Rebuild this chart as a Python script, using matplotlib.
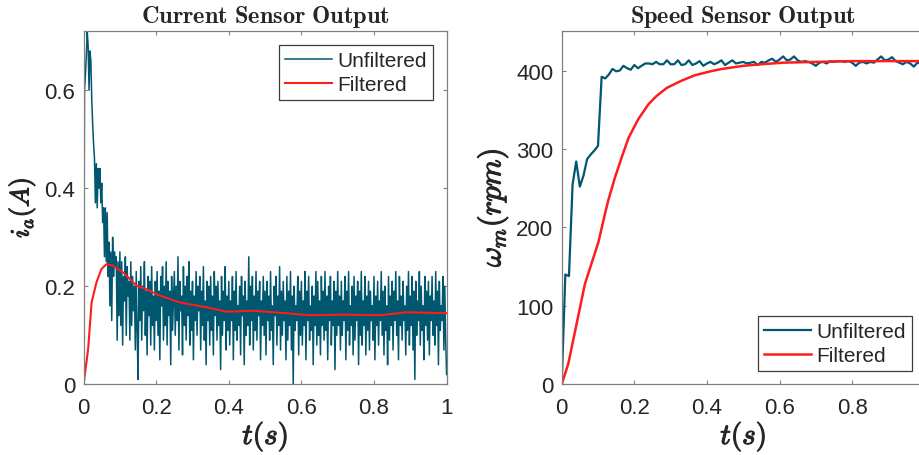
import numpy as np
import matplotlib
matplotlib.use('Agg')
import matplotlib.pyplot as plt
import matplotlib.patheffects as pe

plt.rcParams['font.family'] = ['Liberation Sans', 'DejaVu Sans']
plt.rcParams['mathtext.fontset'] = 'cm'

# current sensor, raw samples every 2.5 ms (A)
current_raw = [
    0.00, 0.60, 0.63, 0.67, 0.72, 0.69, 0.60, 0.68, 0.66, 0.58, 0.53, 0.49, 0.46, 0.37, 0.45, 0.36, 0.44, 0.40, 0.44, 0.37,
    0.41, 0.33, 0.36, 0.26, 0.36, 0.25, 0.35, 0.22, 0.29, 0.16, 0.27, 0.13, 0.30, 0.22, 0.27, 0.24, 0.26, 0.09, 0.25, 0.14,
    0.27, 0.12, 0.25, 0.08, 0.22, 0.17, 0.26, 0.10, 0.24, 0.18, 0.21, 0.09, 0.25, 0.12, 0.22, 0.15, 0.20, 0.07, 0.23, 0.11,
    0.01, 0.21, 0.13, 0.24, 0.09, 0.20, 0.15, 0.25, 0.10, 0.19, 0.06, 0.22, 0.14, 0.21, 0.08, 0.24, 0.12, 0.18, 0.07, 0.21,
    0.13, 0.23, 0.10, 0.19, 0.05, 0.22, 0.16, 0.24, 0.09, 0.20, 0.12, 0.25, 0.08, 0.21, 0.14, 0.19, 0.04, 0.22, 0.11, 0.17,
    0.23, 0.10, 0.20, 0.13, 0.26, 0.07, 0.21, 0.15, 0.18, 0.06, 0.24, 0.12, 0.20, 0.09, 0.22, 0.14, 0.25, 0.08, 0.19, 0.11,
    0.21, 0.05, 0.18, 0.13, 0.23, 0.10, 0.20, 0.15, 0.22, 0.07, 0.19, 0.12, 0.24, 0.09, 0.17, 0.04, 0.21, 0.13, 0.20, 0.08,
    0.22, 0.11, 0.18, 0.06, 0.23, 0.14, 0.20, 0.09, 0.21, 0.12, 0.17, 0.03, 0.22, 0.10, 0.19, 0.13, 0.24, 0.07, 0.18, 0.11,
    0.21, 0.08, 0.17, 0.13, 0.22, 0.05, 0.19, 0.11, 0.23, 0.09, 0.16, 0.12, 0.20, 0.06, 0.22, 0.14, 0.18, 0.04, 0.21, 0.10,
    0.17, 0.12, 0.26, 0.08, 0.20, 0.13, 0.22, 0.07, 0.18, 0.11, 0.23, 0.09, 0.19, 0.14, 0.21, 0.05, 0.17, 0.12, 0.22, 0.10,
    0.19, 0.06, 0.21, 0.13, 0.18, 0.09, 0.23, 0.11, 0.16, 0.04, 0.20, 0.14, 0.22, 0.08, 0.18, 0.12, 0.24, 0.07, 0.19, 0.10,
    0.21, 0.13, 0.17, 0.05, 0.22, 0.09, 0.19, 0.12, 0.23, 0.07, 0.18, 0.00, 0.20, 0.11, 0.16, 0.13, 0.22, 0.06, 0.19, 0.10,
    0.21, 0.08, 0.17, 0.12, 0.23, 0.05, 0.19, 0.13, 0.22, 0.09, 0.16, 0.11, 0.20, 0.04, 0.18, 0.12, 0.23, 0.08, 0.21, 0.10,
    0.17, 0.06, 0.22, 0.12, 0.19, 0.09, 0.23, 0.11, 0.18, 0.05, 0.20, 0.13, 0.22, 0.08, 0.17, 0.12, 0.21, 0.03, 0.19, 0.10,
    0.23, 0.12, 0.18, 0.07, 0.21, 0.10, 0.17, 0.13, 0.22, 0.05, 0.19, 0.11, 0.23, 0.08, 0.16, 0.12, 0.20, 0.06, 0.22, 0.09,
    0.18, 0.13, 0.21, 0.04, 0.19, 0.10, 0.23, 0.08, 0.17, 0.12, 0.22, 0.06, 0.18, 0.11, 0.21, 0.07, 0.19, 0.13, 0.16, 0.09,
    0.22, 0.05, 0.18, 0.12, 0.21, 0.08, 0.17, 0.13, 0.23, 0.10, 0.19, 0.06, 0.20, 0.11, 0.16, 0.04, 0.22, 0.09, 0.18, 0.12,
    0.21, 0.07, 0.19, 0.13, 0.23, 0.10, 0.17, 0.05, 0.22, 0.12, 0.18, 0.09, 0.21, 0.13, 0.16, 0.06, 0.20, 0.11, 0.23, 0.08,
    0.18, 0.12, 0.22, 0.07, 0.19, 0.01, 0.21, 0.10, 0.17, 0.13, 0.23, 0.08, 0.20, 0.11, 0.16, 0.05, 0.22, 0.12, 0.19, 0.09,
    0.21, 0.06, 0.18, 0.13, 0.22, 0.10, 0.17, 0.08, 0.23, 0.12, 0.19, 0.04, 0.21, 0.11, 0.16, 0.13, 0.22, 0.07, 0.20, 0.09,
    0.02,
]

# filtered current (A)
current_filt_t = [0, 0.0125, 0.022, 0.0355, 0.049, 0.063, 0.081, 0.109, 0.146, 0.173, 0.206,
                  0.265, 0.339, 0.394, 0.468, 0.541, 0.624, 0.716, 0.817, 0.891, 1.0]
current_filt = [0, 0.072, 0.167, 0.208, 0.235, 0.245, 0.242, 0.228, 0.201, 0.194, 0.182,
                0.167, 0.157, 0.148, 0.150, 0.146, 0.141, 0.142, 0.141, 0.147, 0.145]

# speed sensor, raw samples every 10 ms (rpm)
speed_raw = [
    0, 140, 138, 255, 284, 252, 266, 287, 293, 298,
    304, 392, 390, 395, 402, 399, 400, 406, 403, 401,
    407, 403, 406, 409, 409, 408, 411, 408, 408, 413,
    408, 408, 413, 407, 408, 413, 407, 409, 412, 406,
    409, 411, 408, 410, 413, 407, 410, 413, 409, 410,
    411, 409, 410, 411, 407, 411, 410, 413, 415, 411,
    414, 418, 413, 414, 418, 413, 411, 412, 411, 409,
    406, 410, 411, 409, 412, 411, 412, 412, 411, 412,
    410, 406, 410, 411, 409, 411, 410, 414, 418, 413,
    414, 417, 412, 410, 408, 411, 409, 405, 410, 409,
    411,
]

# filtered speed (rpm)
speed_filt_t = [0, 0.018, 0.037, 0.064, 0.101, 0.119, 0.128, 0.147, 0.165, 0.184, 0.211,
                0.239, 0.26, 0.29, 0.33, 0.367, 0.41, 0.441, 0.5, 0.55, 0.61, 0.70, 0.80, 0.90, 1.0]
speed_filt = [0, 26, 68, 128, 181, 217, 234, 264, 289, 314, 338,
              357, 367, 378, 387, 394, 399, 402, 406, 408, 410, 411, 412, 412, 412]

blue = '#005870'
red = '#ff1c1c'
txt = '#262626'
bold = [pe.withStroke(linewidth=0.8, foreground=txt)]
leg_style = dict(fontsize=15, handlelength=2.3, handletextpad=0.25, labelspacing=0.25,
                 borderpad=0.28, borderaxespad=0, framealpha=1, fancybox=False,
                 edgecolor='#3c3c3c', labelcolor=txt)

fig = plt.figure(figsize=(9.19, 4.56), dpi=100)
ax1 = fig.add_axes([83.6 / 919, 1 - 385.3 / 456, 363 / 919, 353 / 456])
ax2 = fig.add_axes([561.7 / 919, 1 - 385.3 / 456, 363 / 919, 353 / 456])

t_cur = np.linspace(0, 1, len(current_raw))
ax1.plot(t_cur, current_raw, color=blue, lw=1.1, label='Unfiltered')
ax1.plot(current_filt_t, current_filt, color=red, lw=1.5, label='Filtered')
ax1.set_xlim(0, 1)
ax1.set_ylim(0, 0.72)
ax1.set_yticks([0, 0.2, 0.4, 0.6])
ax1.set_yticklabels(['0', '0.2', '0.4', '0.6'])
ax1.set_title(r'$\mathbf{Current\ Sensor\ Output}$', fontsize=17.5, color=txt, pad=7)
ax1.set_ylabel(r'$i_a(A)$', fontsize=19, color=txt, labelpad=5, path_effects=bold)
ax1.legend(loc='upper right', bbox_to_anchor=(433 / 919, 1 - 46 / 456),
           bbox_transform=fig.transFigure, **leg_style)

t_spd = np.linspace(0, 1, len(speed_raw))
ax2.plot(t_spd, speed_raw, color=blue, lw=1.6, label='Unfiltered')
ax2.plot(speed_filt_t, speed_filt, color=red, lw=1.8, label='Filtered')
ax2.set_xlim(0, 1)
ax2.set_ylim(0, 450)
ax2.set_yticks([0, 100, 200, 300, 400])
ax2.set_title(r'$\mathbf{Speed\ Sensor\ Output}$', fontsize=17.5, color=txt, pad=7)
ax2.set_ylabel(r'$\omega_m(rpm)$', fontsize=22, color=txt, labelpad=4, path_effects=bold)
ax2.legend(loc='lower right', bbox_to_anchor=(912 / 919, 1 - 372.3 / 456),
           bbox_transform=fig.transFigure, **leg_style)

for ax in (ax1, ax2):
    ax.set_xticks([0, 0.2, 0.4, 0.6, 0.8, 1])
    ax.set_xticklabels(['0', '0.2', '0.4', '0.6', '0.8', '1'])
    ax.set_xlabel(r'$t(s)$', fontsize=21, color=txt, labelpad=1, path_effects=bold)
    ax.tick_params(direction='in', top=True, right=True, length=3, width=0.8,
                   labelsize=16, colors='#808080', labelcolor=txt)
    ax.tick_params(axis='x', pad=9.5)
    ax.tick_params(axis='y', pad=6)
    for s in ax.spines.values():
        s.set_color('#808080')
        s.set_linewidth(0.9)
    ax.get_legend().get_frame().set_linewidth(0.9)

fig.savefig('out.png', dpi=100)
